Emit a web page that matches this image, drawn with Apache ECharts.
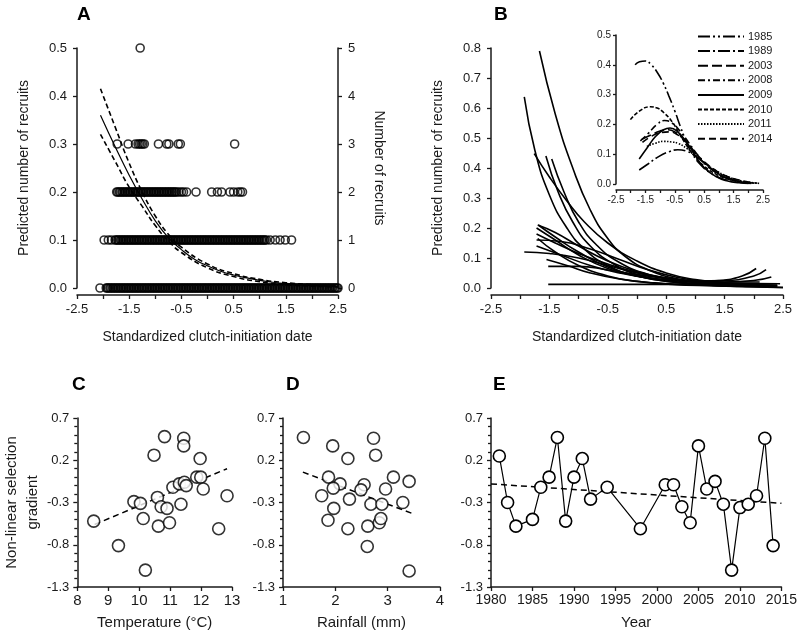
<!DOCTYPE html>
<html>
<head>
<meta charset="utf-8">
<script src="https://cdn.jsdelivr.net/npm/echarts@6/dist/echarts.min.js"></script>
<style>html,body{margin:0;background:#fff}#chart{width:800px;height:632px}</style>
</head>
<body>
<div id="chart"></div>
<script>
// ---- panel A: observed recruits (x = standardized clutch-initiation date) per count
const recruits0 = [-2.06,-1.94,-1.92,-1.9,-1.87,-1.85,-1.82,-1.8,-1.77,-1.75,-1.72,-1.7,-1.67,-1.65,-1.62,-1.6,-1.57,-1.55,-1.52,-1.5,-1.47,-1.45,-1.42,-1.4,-1.37,-1.35,-1.32,-1.3,-1.27,-1.25,-1.22,-1.2,-1.17,-1.15,-1.12,-1.1,-1.07,-1.05,-1.02,-1,-0.97,-0.95,-0.92,-0.9,-0.87,-0.85,-0.82,-0.8,-0.77,-0.75,-0.72,-0.7,-0.67,-0.65,-0.62,-0.6,-0.57,-0.55,-0.52,-0.5,-0.47,-0.45,-0.42,-0.4,-0.37,-0.35,-0.32,-0.3,-0.27,-0.25,-0.22,-0.2,-0.17,-0.15,-0.12,-0.1,-0.07,-0.05,-0.02,0,0.03,0.05,0.08,0.1,0.13,0.15,0.18,0.2,0.23,0.25,0.28,0.3,0.33,0.35,0.38,0.4,0.43,0.45,0.48,0.5,0.53,0.55,0.58,0.6,0.63,0.65,0.68,0.7,0.73,0.75,0.78,0.8,0.83,0.85,0.88,0.9,0.93,0.95,0.98,1,1.03,1.05,1.08,1.1,1.13,1.15,1.18,1.2,1.23,1.25,1.28,1.3,1.33,1.35,1.38,1.4,1.43,1.45,1.48,1.5,1.53,1.55,1.58,1.6,1.63,1.65,1.68,1.7,1.73,1.75,1.78,1.8,1.83,1.85,1.88,1.9,1.93,1.95,1.98,2,2.03,2.05,2.08,2.1,2.13,2.15,2.18,2.2,2.23,2.25,2.28,2.3,2.33,2.35,2.38,2.4,2.43,2.45,2.48,2.5];
const recruits1 = [-1.98,-1.9,-1.84,-1.77,-1.75,-1.72,-1.7,-1.67,-1.65,-1.62,-1.6,-1.57,-1.55,-1.52,-1.5,-1.47,-1.45,-1.42,-1.4,-1.37,-1.35,-1.32,-1.3,-1.27,-1.25,-1.22,-1.2,-1.17,-1.15,-1.12,-1.1,-1.07,-1.05,-1.02,-1,-0.97,-0.95,-0.92,-0.9,-0.87,-0.85,-0.82,-0.8,-0.77,-0.75,-0.72,-0.7,-0.67,-0.65,-0.62,-0.6,-0.57,-0.55,-0.52,-0.5,-0.47,-0.45,-0.42,-0.4,-0.37,-0.35,-0.32,-0.3,-0.27,-0.25,-0.22,-0.2,-0.17,-0.15,-0.12,-0.1,-0.07,-0.05,-0.02,0,0.03,0.05,0.08,0.1,0.13,0.15,0.18,0.2,0.23,0.25,0.28,0.3,0.33,0.35,0.38,0.4,0.43,0.45,0.48,0.5,0.53,0.55,0.58,0.6,0.63,0.65,0.68,0.7,0.73,0.75,0.78,0.8,0.83,0.85,0.88,0.9,0.93,0.95,0.98,1,1.03,1.05,1.08,1.1,1.13,1.2,1.3,1.39,1.49,1.61];
const recruits2 = [-1.74,-1.72,-1.69,-1.67,-1.64,-1.62,-1.59,-1.57,-1.54,-1.52,-1.49,-1.47,-1.44,-1.42,-1.39,-1.37,-1.34,-1.32,-1.29,-1.27,-1.24,-1.22,-1.19,-1.17,-1.14,-1.12,-1.09,-1.07,-1.04,-1.02,-0.99,-0.97,-0.94,-0.92,-0.89,-0.87,-0.84,-0.82,-0.79,-0.77,-0.74,-0.72,-0.69,-0.67,-0.64,-0.62,-0.59,-0.55,-0.5,-0.46,-0.4,-0.22,0.08,0.19,0.27,0.43,0.5,0.58,0.63,0.67];
const recruits3 = [-1.73,-1.52,-1.38,-1.33,-1.3,-1.27,-1.24,-1.21,-0.94,-0.78,-0.74,-0.56,-0.52,0.52];
const recruits5 = [-1.29];

// ---- panel A: fitted curve and its confidence band
const fitA = [[-2.05,0.36],[-1.75,0.29],[-1.5,0.235],[-1.25,0.185],[-1.0,0.14],[-0.75,0.105],[-0.5,0.08],[-0.25,0.06],[0,0.046],[0.25,0.035],[0.5,0.027],[0.75,0.021],[1,0.016],[1.25,0.012],[1.5,0.009],[1.75,0.007],[2,0.005],[2.25,0.004],[2.5,0.003]];
const fitAUpper = [[-2.05,0.415],[-1.75,0.33],[-1.5,0.26],[-1.25,0.2],[-1.0,0.15],[-0.75,0.112],[-0.5,0.085],[0,0.05],[0.5,0.03],[1,0.018],[1.5,0.011],[2,0.007],[2.5,0.004]];
const fitALower = [[-2.05,0.32],[-1.75,0.26],[-1.5,0.21],[-1.25,0.17],[-1.0,0.13],[-0.75,0.098],[-0.5,0.074],[0,0.042],[0.5,0.024],[1,0.013],[1.5,0.007],[2,0.004],[2.5,0.002]];

// ---- panel B: yearly predicted curves
const yearCurves = [
  [[-1.67,0.79],[-1.4,0.58],[-1.1,0.4],[-0.8,0.26],[-0.5,0.165],[-0.2,0.105],[0.2,0.06],[0.7,0.03],[1.2,0.017],[1.8,0.009],[2.4,0.005]],
  [[-1.93,0.637],[-1.75,0.46],[-1.5,0.31],[-1.2,0.2],[-0.9,0.13],[-0.5,0.075],[0,0.04],[0.6,0.02],[1.2,0.01],[1.8,0.006],[2.3,0.004]],
  [[-1.76,0.448],[-1.5,0.37],[-1.2,0.29],[-0.9,0.22],[-0.5,0.15],[0,0.09],[0.5,0.05],[1.0,0.028],[1.6,0.015],[2.2,0.008]],
  [[-1.56,0.44],[-1.35,0.32],[-1.1,0.22],[-0.8,0.14],[-0.4,0.08],[0,0.045],[0.5,0.025],[1.0,0.015],[1.6,0.01],[2.1,0.008]],
  [[-1.46,0.43],[-1.25,0.32],[-1.0,0.22],[-0.7,0.145],[-0.3,0.085],[0.2,0.045],[0.7,0.025],[1.2,0.016],[1.8,0.012],[2.4,0.01]],
  [[-1.7,0.21],[-1.4,0.185],[-1.0,0.14],[-0.5,0.09],[0,0.055],[0.5,0.033],[1.0,0.022],[1.5,0.02],[2.0,0.025],[2.3,0.037]],
  [[-1.72,0.2],[-1.4,0.16],[-1.0,0.11],[-0.5,0.065],[0,0.04],[0.5,0.027],[1.0,0.022],[1.4,0.025],[1.8,0.04],[2.04,0.065]],
  [[-1.72,0.18],[-1.4,0.15],[-1.0,0.115],[-0.5,0.08],[0,0.052],[0.5,0.033],[1.0,0.024],[1.5,0.025],[2.0,0.04],[2.21,0.061]],
  [[-1.72,0.16],[-1.3,0.155],[-0.8,0.13],[-0.3,0.095],[0.2,0.06],[0.7,0.035],[1.2,0.02],[1.8,0.012],[2.4,0.008]],
  [[-1.72,0.14],[-1.3,0.11],[-0.8,0.075],[-0.3,0.05],[0.2,0.033],[0.8,0.022],[1.4,0.017],[2.0,0.015],[2.45,0.014]],
  [[-1.93,0.12],[-1.5,0.115],[-1.0,0.1],[-0.5,0.075],[0,0.05],[0.5,0.032],[1.0,0.02],[1.5,0.013],[2.0,0.009],[2.4,0.007]],
  [[-1.55,0.095],[-1.2,0.075],[-0.8,0.05],[-0.3,0.03],[0.3,0.017],[1.0,0.01],[1.7,0.008],[2.4,0.007]],
  [[-1.52,0.072],[-1.0,0.072],[-0.5,0.06],[0,0.045],[0.5,0.032],[1.0,0.024],[1.5,0.02],[2.1,0.02]],
  [[-1.52,0.012],[-0.5,0.012],[0.5,0.012],[1.3,0.012],[1.9,0.012]],
  [[-1.69,0.21],[-1.4,0.17],[-1.0,0.12],[-0.5,0.07],[0,0.04],[0.6,0.02],[1.2,0.01],[1.8,0.005],[2.5,0.001]],
  [[-1.7,0.165],[-1.4,0.12],[-1.0,0.075],[-0.5,0.04],[0,0.022],[0.6,0.012],[1.3,0.007],[2.0,0.004],[2.5,0.002]]
];

// ---- panel B inset: selected years
const insetYears = ['1985','1989','2003','2008','2009','2010','2011','2014'];
const insetDash = [[12,3,2,3,2,3],[12,3,2,3],[10,4],[7,3,2,3],'solid',[4,2],[1.5,1.5],[7,4]];
const insetCurves = [
  [[-1.85,0.4],[-1.7,0.41],[-1.5,0.413],[-1.3,0.4],[-1.1,0.375],[-0.9,0.34],[-0.7,0.295],[-0.5,0.245],[-0.3,0.19],[-0.1,0.14],[0.1,0.1],[0.4,0.062],[0.7,0.038],[1.0,0.022],[1.4,0.01],[1.8,0.004],[2.1,0.002]],
  [[-1.71,0.047],[-1.4,0.068],[-1.05,0.092],[-0.7,0.108],[-0.4,0.115],[-0.1,0.11],[0.2,0.095],[0.5,0.07],[0.8,0.047],[1.1,0.03],[1.5,0.015],[1.9,0.006],[2.2,0.003]],
  [[-1.62,0.15],[-1.3,0.165],[-1.0,0.178],[-0.75,0.182],[-0.5,0.175],[-0.2,0.15],[0.1,0.115],[0.4,0.08],[0.8,0.045],[1.2,0.022],[1.6,0.01],[2.0,0.004]],
  [[-1.67,0.145],[-1.4,0.17],[-1.1,0.2],[-0.85,0.213],[-0.6,0.205],[-0.3,0.175],[0,0.135],[0.3,0.095],[0.7,0.055],[1.1,0.028],[1.5,0.013],[1.9,0.005]],
  [[-1.71,0.084],[-1.45,0.12],[-1.15,0.16],[-0.88,0.182],[-0.66,0.188],[-0.4,0.175],[-0.1,0.14],[0.2,0.095],[0.5,0.055],[0.9,0.025],[1.3,0.01],[1.7,0.004],[2.0,0.002]],
  [[-2.01,0.216],[-1.7,0.245],[-1.34,0.259],[-1.1,0.255],[-0.88,0.24],[-0.6,0.21],[-0.35,0.17],[-0.1,0.13],[0.2,0.09],[0.5,0.06],[0.9,0.033],[1.3,0.017],[1.7,0.008],[2.0,0.004]],
  [[-1.45,0.126],[-1.15,0.137],[-0.88,0.143],[-0.6,0.141],[-0.38,0.136],[-0.1,0.12],[0.19,0.098],[0.5,0.072],[0.9,0.045],[1.3,0.025],[1.7,0.012],[2.1,0.005],[2.4,0.002]],
  [[-1.6,0.14],[-1.3,0.16],[-1.0,0.172],[-0.7,0.175],[-0.4,0.165],[-0.1,0.14],[0.2,0.105],[0.5,0.075],[0.9,0.045],[1.3,0.025],[1.7,0.013],[2.0,0.007],[2.3,0.003]]
];

// ---- panel C: temperature vs gradient
const temperature = [8.53,9.33,9.83,10.04,10.13,10.2,10.48,10.59,10.62,10.71,10.82,10.9,10.98,11.09,11.3,11.35,11.44,11.44,11.46,11.52,11.86,11.99,11.97,12.07,12.57,12.84];
const gradientC = [-0.52,-0.81,-0.29,-0.31,-0.49,-1.1,0.26,-0.24,-0.58,-0.35,0.48,-0.37,-0.54,-0.12,-0.08,-0.32,0.46,0.37,-0.06,-0.1,0.0,0.0,0.22,-0.14,-0.61,-0.22];
const trendC = [[8.56,-0.56],[12.84,0.1]];

// ---- panel D: rainfall vs gradient
const rainfall = [1.39,1.95,2.24,2.73,2.77,1.87,2.09,1.96,1.74,2.27,2.55,2.49,2.68,2.89,2.96,3.11,3.41,3.29,1.97,1.86,2.24,2.62,2.84,2.87,2.61,3.41];
const gradientD = [0.47,0.37,0.22,0.46,0.26,0.0,-0.08,-0.13,-0.22,-0.26,-0.09,-0.15,-0.32,-0.32,-0.14,0.0,-0.05,-0.3,-0.37,-0.51,-0.61,-0.58,-0.54,-0.49,-0.82,-1.11];
const trendD = [[1.38,0.06],[3.47,-0.43]];

// ---- panel E: gradient by year
const years = [1981,1982,1983,1985,1986,1987,1988,1989,1990,1991,1992,1994,1998,2001,2002,2003,2004,2005,2006,2007,2008,2009,2010,2011,2012,2013,2014];
const gradientE = [0.25,-0.3,-0.58,-0.5,-0.12,0.0,0.47,-0.52,0.0,0.22,-0.26,-0.12,-0.61,-0.09,-0.09,-0.35,-0.54,0.37,-0.14,-0.05,-0.32,-1.1,-0.36,-0.32,-0.22,0.46,-0.81];
const trendE = [[1980,-0.08],[2015,-0.31]];

const FONT = 'Liberation Sans';
const INK = '#1a1a1a';
const zip = (xs, ys) => xs.map((x, i) => [x, ys[i]]);
const fix1 = v => v.toFixed(1);
const plain = v => String(v);

function axis(o) {
  return {
    type: 'value',
    gridIndex: o.grid,
    min: o.min, max: o.max, interval: o.interval,
    position: o.position,
    offset: o.offset || 0,
    name: o.name || '',
    nameLocation: 'middle',
    nameGap: o.nameGap || 30,
    nameRotate: o.nameRotate,
    nameTextStyle: {color: INK, fontFamily: FONT, fontSize: o.nameSize || 14, lineHeight: o.nameLH},
    splitLine: {show: false},
    axisLine: {show: true, onZero: false, lineStyle: {color: INK, width: 1.5}},
    axisTick: {show: true, length: o.tickLen || 4, lineStyle: {color: INK, width: 1.3}},
    minorTick: {show: !!o.minor, splitNumber: o.minor || 5, length: o.minorLen || 4, lineStyle: {color: INK, width: 1.3}},
    axisLabel: {color: INK, fontFamily: FONT, fontSize: o.labelSize || 13, margin: o.margin || 8, formatter: o.fmt || plain, showMinLabel: true, showMaxLabel: true}
  };
}

const series = [];
// A
[[recruits0,0],[recruits1,1],[recruits2,2],[recruits3,3],[recruits5,5]].forEach(([xs, n]) => {
  series.push({type: 'scatter', xAxisIndex: 0, yAxisIndex: 1, symbolSize: 8,
    itemStyle: {color: 'rgba(0,0,0,0)', borderColor: '#000', borderWidth: 1.6},
    data: xs.map(x => [x, n])});
});
series.push({type: 'line', xAxisIndex: 0, yAxisIndex: 0, smooth: true, symbol: 'none', data: fitA, lineStyle: {color: '#000', width: 1.2}});
[fitAUpper, fitALower].forEach(d => series.push({type: 'line', xAxisIndex: 0, yAxisIndex: 0, smooth: true, symbol: 'none', data: d, lineStyle: {color: '#000', width: 1.6, type: [5, 3]}}));
// B
yearCurves.forEach(d => series.push({type: 'line', xAxisIndex: 1, yAxisIndex: 2, smooth: true, symbol: 'none', data: d, lineStyle: {color: '#000', width: 1.6}}));
insetCurves.forEach((d, i) => series.push({type: 'line', name: insetYears[i], xAxisIndex: 2, yAxisIndex: 3, smooth: true, symbol: 'none', data: d,
  itemStyle: {color: '#000'}, lineStyle: {color: '#000', width: 1.6, type: insetDash[i]}}));
// C, D
const dots = {color: '#fff', borderColor: '#000', borderWidth: 1.6};
[[trendC, zip(temperature, gradientC), 3, 4], [trendD, zip(rainfall, gradientD), 4, 5]].forEach(([t, pts, xi, yi]) => {
  series.push({type: 'line', xAxisIndex: xi, yAxisIndex: yi, symbol: 'none', data: t, lineStyle: {color: '#000', width: 1.5, type: [6, 4]}});
  series.push({type: 'scatter', xAxisIndex: xi, yAxisIndex: yi, symbolSize: 12, itemStyle: dots, data: pts, z: 3});
});
// E
series.push({type: 'line', xAxisIndex: 5, yAxisIndex: 6, symbol: 'none', data: trendE, lineStyle: {color: '#000', width: 1.5, type: [6, 4]}});
series.push({type: 'line', xAxisIndex: 5, yAxisIndex: 6, symbol: 'circle', symbolSize: 12, showAllSymbol: true, data: zip(years, gradientE),
  itemStyle: dots, lineStyle: {color: '#000', width: 1.2}, z: 3});

const letter = (t, left, top) => ({text: t, left, top, textStyle: {fontFamily: FONT, fontSize: 19, fontWeight: 'bold', color: '#000'}});

const option = {
  animation: false,
  backgroundColor: '#fff',
  title: [letter('A', 72, 0), letter('B', 489, 0), letter('C', 67, 370), letter('D', 281, 370), letter('E', 488, 370)],
  legend: {data: insetYears, orient: 'vertical', left: 697, top: 31, itemWidth: 46, itemHeight: 8, itemGap: 3.6, padding: 0,
    itemStyle: {opacity: 0}, selectedMode: false,
    textStyle: {fontFamily: FONT, fontSize: 11, color: INK, padding: [0, 0, 0, -1]}},
  grid: [
    {left: 77, top: 48, width: 261, height: 240},
    {left: 491, top: 48, width: 292, height: 240},
    {left: 616, top: 35, width: 147, height: 149},
    {left: 75, top: 418, width: 157, height: 169},
    {left: 283, top: 418, width: 157, height: 169},
    {left: 491, top: 418, width: 292, height: 169}
  ],
  xAxis: [
    axis({grid: 0, min: -2.5, max: 2.5, interval: 1, minor: 2, offset: 7, name: 'Standardized clutch-initiation date', nameGap: 35, fmt: fix1}),
    axis({grid: 1, min: -2.5, max: 2.5, interval: 1, minor: 2, offset: 7, name: 'Standardized clutch-initiation date', nameGap: 35, fmt: fix1}),
    axis({grid: 2, min: -2.5, max: 2.5, interval: 1, minor: 2, offset: 6, labelSize: 10, tickLen: 3, minorLen: 3, margin: 5, fmt: fix1}),
    axis({grid: 3, min: 8, max: 13, interval: 1, name: 'Temperature (°C)', nameGap: 28, nameSize: 15, labelSize: 15, margin: 6}),
    axis({grid: 4, min: 1, max: 4, interval: 1, name: 'Rainfall (mm)', nameGap: 28, nameSize: 15, labelSize: 15, margin: 6}),
    axis({grid: 5, min: 1980, max: 2015, interval: 5, name: 'Year', nameGap: 28, nameSize: 15, labelSize: 14, margin: 6})
  ],
  yAxis: [
    axis({grid: 0, min: 0, max: 0.5, interval: 0.1, name: 'Predicted number of recruits', nameGap: 46, fmt: fix1, margin: 10}),
    axis({grid: 0, min: 0, max: 5, interval: 1, position: 'right', name: 'Number of recruits', nameGap: 34, nameRotate: -90, margin: 10}),
    axis({grid: 1, min: 0, max: 0.8, interval: 0.1, name: 'Predicted number of recruits', nameGap: 46, fmt: fix1, margin: 10}),
    axis({grid: 2, min: 0, max: 0.5, interval: 0.1, labelSize: 10, tickLen: 3, margin: 5, fmt: fix1}),
    axis({grid: 3, min: -1.3, max: 0.7, interval: 0.5, minor: 5, minorLen: 3, name: 'Non-linear selection\ngradient', nameGap: 33, nameSize: 15, nameLH: 21, fmt: fix1, margin: 8}),
    axis({grid: 4, min: -1.3, max: 0.7, interval: 0.5, minor: 5, minorLen: 3, fmt: fix1, margin: 8}),
    axis({grid: 5, min: -1.3, max: 0.7, interval: 0.5, minor: 5, minorLen: 3, fmt: fix1, margin: 8})
  ],
  series: series
};

const chart = echarts.init(document.getElementById('chart'), null, {renderer: 'canvas'});
chart.setOption(option);
</script>
</body>
</html>
